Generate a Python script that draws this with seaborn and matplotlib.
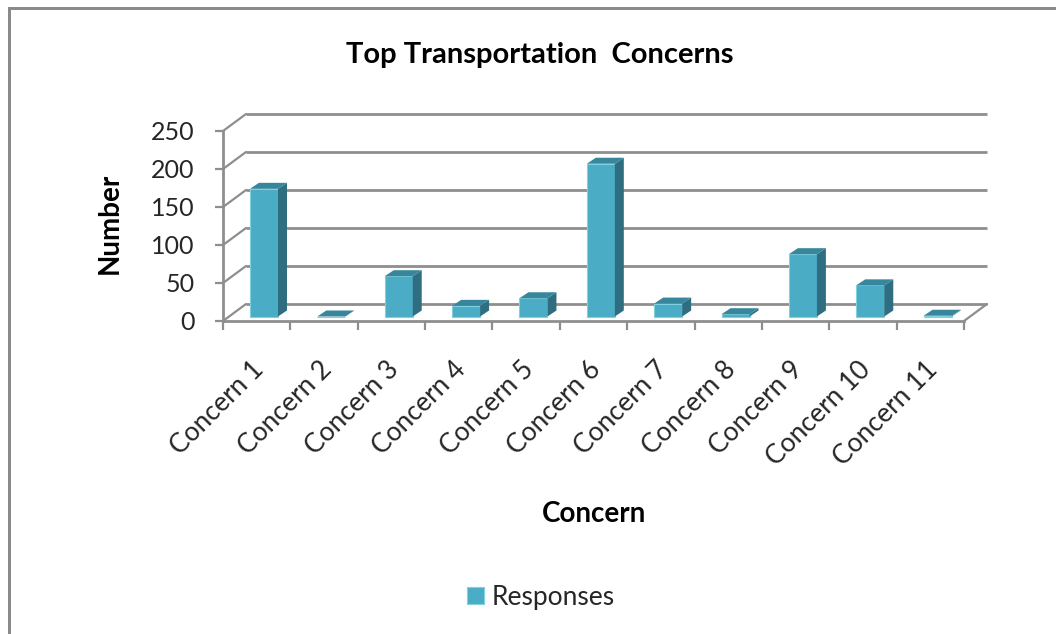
import matplotlib
matplotlib.use("Agg")
import matplotlib.pyplot as plt
from matplotlib.patches import Rectangle
import pandas as pd
import seaborn as sns

concerns = ["Concern 1", "Concern 2", "Concern 3", "Concern 4", "Concern 5", "Concern 6",
            "Concern 7", "Concern 8", "Concern 9", "Concern 10", "Concern 11"]
responses = [168, 0, 53, 14, 24, 201, 17, 3, 82, 41, 1]
y_ticks = [0, 50, 100, 150, 200, 250]

W, H = 1056, 634
FRONT = "#4BACC6"
SIDE = "#2F6E80"
TOP = "#37869B"
EDGE = "#7FD0E0"
GRID = "#8E8E8E"

sns.set_theme(style="white")
plt.rcParams["font.family"] = ["Lato", "DejaVu Sans"]

fig = plt.figure(figsize=(W / 100, H / 100), dpi=100)
ax = fig.add_axes([223 / W, 1 - 321 / H, (964 - 223) / W, (321 - 131) / H])

df = pd.DataFrame({"Concern": concerns, "Responses": responses})
sns.barplot(data=df, x="Concern", y="Responses", color=FRONT, saturation=1, width=0.416,
            edgecolor=EDGE, linewidth=0.8, label="Responses", zorder=3, ax=ax)
ax.set_xlim(-0.5, 10.5)
ax.set_ylim(0, 250)

# pixel sizes of the fake 3D depth, turned into data units
px_x = 11 / (964 - 223)
px_y = 250 / (321 - 131)
wall_dx, wall_dy = 23 * px_x, 17 * px_y
bar_dx, bar_dy = 7.3 * px_x, 4.5 * px_y
side_dx, side_dy = 9 * px_x, 6 * px_y

# back wall and floor
for t in y_ticks:
    ax.plot([-0.5 + wall_dx, 10.5 + wall_dx], [t + wall_dy, t + wall_dy], color=GRID, lw=2,
            clip_on=False, zorder=1, solid_capstyle="butt")
    ax.plot([-0.5, -0.5 + wall_dx], [t, t + wall_dy], color=GRID, lw=1.6, clip_on=False, zorder=1)
ax.plot([10.5, 10.5 + wall_dx], [0, wall_dy], color=GRID, lw=1.6, clip_on=False, zorder=1)

# move the bars back from the front plane and add the side and top faces
for patch in ax.patches:
    patch.set_x(patch.get_x() + bar_dx)
    patch.set_y(bar_dy)
    patch.set_clip_on(False)
    x0 = patch.get_x()
    x1 = x0 + patch.get_width()
    y0 = bar_dy
    y1 = y0 + patch.get_height()
    ax.fill([x1, x1 + side_dx, x1 + side_dx, x1], [y0, y0 + side_dy, y1 + side_dy, y1],
            color=SIDE, lw=0, clip_on=False, zorder=3)
    ax.fill([x0, x1, x1 + side_dx, x0 + side_dx], [y1, y1, y1 + side_dy, y1 + side_dy],
            color=TOP, lw=0, clip_on=False, zorder=3)

sns.despine(ax=ax, top=True, right=True)
for s in ["left", "bottom"]:
    ax.spines[s].set_color(GRID)
    ax.spines[s].set_linewidth(2)

ax.set_xticks([i - 0.5 for i in range(12)])
ax.set_xticklabels([])
ax.set_yticks(y_ticks)
ax.tick_params(axis="y", length=6, width=1.6, color=GRID, left=True, pad=14.5, labelsize=18,
               labelcolor="#262626")
ax.tick_params(axis="x", length=6.5, width=1.6, color=GRID, bottom=True)

# category labels sit under the ticks, rotated
for i, name in enumerate(concerns):
    ax.annotate(name, (i + 0.05, 0), xytext=(0, -32), textcoords="offset points", rotation=45,
                rotation_mode="anchor", ha="right", va="center", fontsize=19, color="#262626",
                annotation_clip=False)

ax.set_xlabel("")
ax.set_ylabel("")
fig.text(110 / W, 1 - 223 / H, "Number", rotation=90, ha="center", va="center",
         fontsize=20, fontweight="bold", color="black")
fig.text(594 / W, 1 - 514 / H, "Concern", ha="center", va="center",
         fontsize=20, fontweight="bold", color="black")
fig.text(540 / W, 1 - 55 / H, "Top Transportation  Concerns", ha="center", va="center",
         fontsize=21, fontweight="bold", color="black")

ax.legend(loc="center", bbox_to_anchor=(541 / W, 1 - 597 / H), bbox_transform=fig.transFigure,
          frameon=False, fontsize=19, handlelength=0.62, handleheight=0.62, handletextpad=0.3,
          labelcolor="#262626")

# outer chart border: only left and top edges are inside the picture
for x, y, w, h in [(8, 7, 2.5, H - 7), (8, 7, W - 8, 2.5)]:
    fig.add_artist(Rectangle((x / W, 1 - (y + h) / H), w / W, h / H, color="#8A8A8A", lw=0,
                             transform=fig.transFigure))

fig.savefig("out.png", dpi=100)
